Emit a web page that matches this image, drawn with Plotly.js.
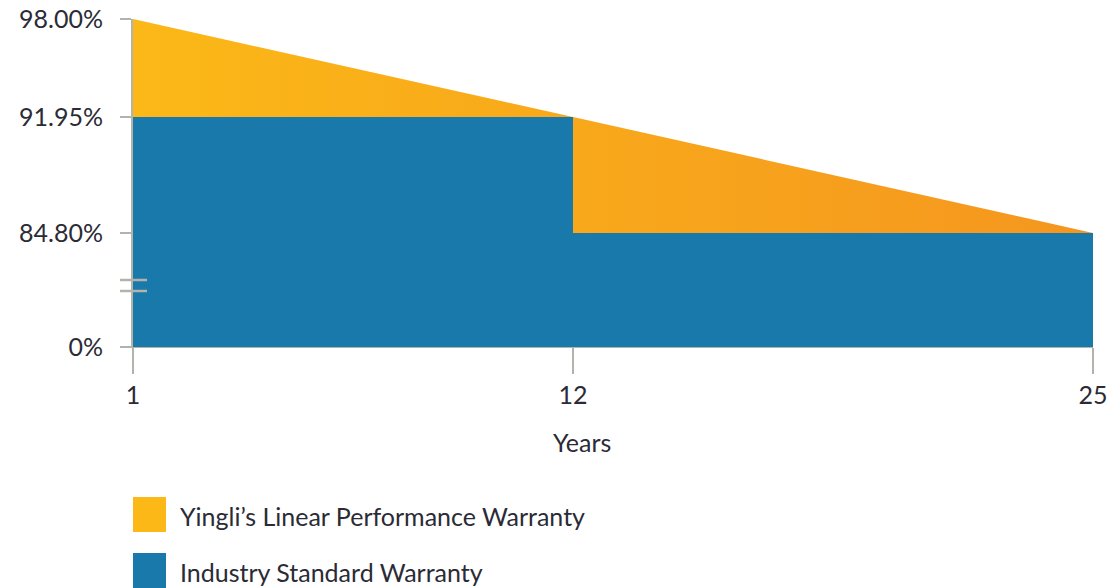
<!DOCTYPE html>
<html>
<head>
<meta charset="utf-8">
<script src="https://cdn.plot.ly/plotly-3.0.1.min.js"></script>
<style>html,body{margin:0;padding:0;background:#fff;}#chart{width:1112px;height:588px;}</style>
</head>
<body>
<div id="chart"></div>
<script>
// Data
const yingliYears = [1, 25];
const yingliValues = [98.00, 84.80];
const industryYears = [1, 12, 12, 25];
const industryValues = [91.95, 91.95, 84.80, 84.80];
const xTickVals = [1, 12, 25];
const xTickText = ['1', '12', '25'];
// Broken axis: the 0% label sits at the compressed bottom of the axis
const axisBottom = 77.76;
const yTickVals = [axisBottom, 84.80, 91.95, 98.00];
const yTickText = ['0%', '84.80%', '91.95%', '98.00%'];
const seriesNames = ["Yingli’s Linear Performance Warranty", 'Industry Standard Warranty'];
const xTitle = 'Years';

const yellow = '#fbb817';
const orange = '#f5961f';
const blue = '#1a79ab';
const gray = '#b3b3ab';
const textColor = '#2b2b36';
const font = 'Lato, "Open Sans", sans-serif';

const traces = [
  {
    x: yingliYears, y: yingliValues, type: 'scatter', mode: 'lines',
    line: {width: 0, color: yellow}, fill: 'tozeroy',
    fillcolor: yellow,
    fillgradient: {type: 'horizontal', colorscale: [[0, yellow], [1, orange]]},
    name: seriesNames[0], hoverinfo: 'skip'
  },
  {
    x: industryYears, y: industryValues, type: 'scatter', mode: 'lines',
    line: {width: 0, color: blue}, fill: 'tozeroy', fillcolor: blue,
    name: seriesNames[1], hoverinfo: 'skip'
  }
];

const plotH = 328;
function py(px) { return (347 - px) / plotH; }
function pxX(px) { return (px - 133) / 960; }

const layout = {
  width: 1112, height: 588,
  margin: {l: 133, r: 19, t: 19, b: 241},
  paper_bgcolor: '#fff', plot_bgcolor: '#fff',
  showlegend: false,
  font: {family: font, color: textColor, size: 25},
  xaxis: {
    range: [1, 25], tickvals: xTickVals, ticktext: xTickText,
    showgrid: false, zeroline: false, showline: true, linecolor: gray, linewidth: 1,
    ticks: 'outside', ticklen: 26, tickwidth: 2, tickcolor: gray,
    tickfont: {family: font, size: 25, color: textColor},
    fixedrange: true
  },
  yaxis: {
    range: [axisBottom, 98.00], tickvals: yTickVals, ticktext: yTickText,
    showgrid: false, zeroline: false, showline: true, linecolor: gray, linewidth: 2,
    ticks: 'outside', ticklen: 11, tickwidth: 2, tickcolor: gray,
    ticklabelstandoff: 12,
    tickfont: {family: font, size: 25, color: textColor},
    fixedrange: true
  },
  shapes: [
    {type: 'line', xref: 'paper', yref: 'paper', x0: pxX(120), x1: pxX(147), y0: py(280), y1: py(280), line: {color: gray, width: 2.5}},
    {type: 'line', xref: 'paper', yref: 'paper', x0: pxX(120), x1: pxX(147), y0: py(291), y1: py(291), line: {color: gray, width: 2.5}},
    {type: 'rect', xref: 'paper', yref: 'paper', x0: pxX(133), x1: pxX(166), y0: py(497), y1: py(532), fillcolor: yellow, line: {width: 0}},
    {type: 'rect', xref: 'paper', yref: 'paper', x0: pxX(133), x1: pxX(166), y0: py(553), y1: py(588), fillcolor: blue, line: {width: 0}}
  ],
  annotations: [
    {xref: 'paper', yref: 'paper', x: pxX(582), y: py(442), xanchor: 'center', yanchor: 'middle', showarrow: false, text: xTitle, font: {family: font, size: 25, color: textColor}},
    {xref: 'paper', yref: 'paper', x: pxX(178), y: py(516), xanchor: 'left', yanchor: 'middle', showarrow: false, text: seriesNames[0], font: {family: font, size: 25, color: textColor}},
    {xref: 'paper', yref: 'paper', x: pxX(178), y: py(572), xanchor: 'left', yanchor: 'middle', showarrow: false, text: seriesNames[1], font: {family: font, size: 25, color: textColor}}
  ]
};

Plotly.newPlot('chart', traces, layout, {displayModeBar: false, staticPlot: true});
</script>
</body>
</html>
